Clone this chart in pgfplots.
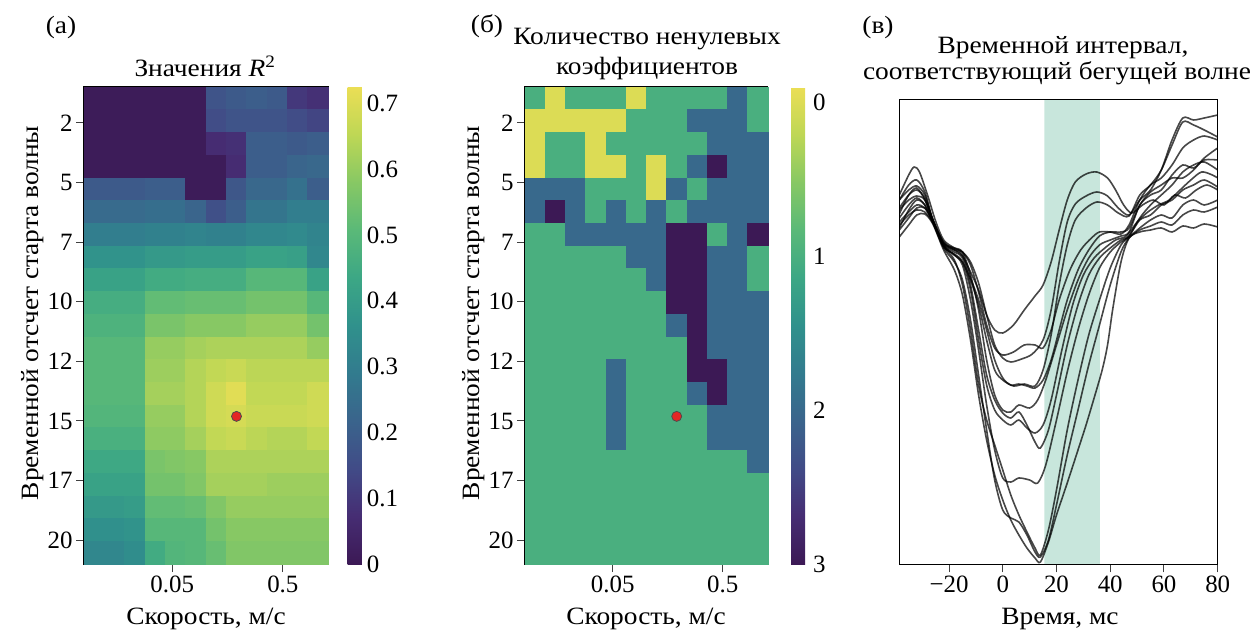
\documentclass[border=0pt]{standalone}
\usepackage{fontspec}
\setmainfont{Liberation Serif}
\newfontfamily\wide{Liberation Serif}[FakeStretch=1.1]
\usepackage{pgfplots}
\pgfplotsset{compat=1.18}
\newcommand{\fs}{\fontsize{25}{29}\selectfont}
\newcommand{\ft}{\wide\fontsize{25}{29}\selectfont}
\definecolor{band}{RGB}{200,230,220}
\definecolor{dot}{RGB}{228,38,36}
\pgfplotsset{
  colormap={vir}{rgb255=(60,25,85) rgb255=(70,45,115) rgb255=(65,75,135) rgb255=(58,100,140) rgb255=(50,123,142) rgb255=(48,145,140) rgb255=(60,167,133) rgb255=(90,185,120) rgb255=(135,200,100) rgb255=(190,215,85) rgb255=(235,222,85)},
  colormap={virR}{rgb255=(235,222,85) rgb255=(190,215,85) rgb255=(135,200,100) rgb255=(90,185,120) rgb255=(60,167,133) rgb255=(48,145,140) rgb255=(50,123,142) rgb255=(58,100,140) rgb255=(65,75,135) rgb255=(70,45,115) rgb255=(60,25,85)},
  heat/.style={
    scale only axis, height=477bp,
    xmin=0, xmax=12, ymin=0, ymax=21, y dir=reverse,
    enlargelimits=false, axis on top,
    tick align=outside, major tick length=8bp,
    xtick pos=bottom, ytick pos=left,
    xtick={4.34,9.78}, xticklabels={0.05,0.5},
    ytick={1.575,4.2,6.825,9.45,12.075,14.7,17.325,19.95},
    yticklabels={2,5,7,10,12,15,17,20},
    axis line style={line width=1.2bp},
    tick style={line width=1bp, color=black!75},
    tick label style={font=\fs},
  },
  cell/.style={scatter, only marks, mark=square*, point meta=explicit,
    scatter/use mapped color={draw=mapped color, fill=mapped color}},
  cb/.style={
    at={(parent axis.north east)}, anchor=north west,
    scale only axis, width=20.6bp, height=477bp,
    axis line style={draw=none}, major tick length=0pt,
    tick label style={font=\fs},
  },
  wave/.style={black, opacity=0.72, line width=1.6bp, smooth, tension=0.5},
}
\begin{document}
\begin{tikzpicture}
\useasboundingbox (0,0) rectangle (1256bp,631bp);

% (a) R^2 values
\begin{axis}[heat, at={(84bp,67bp)}, width=244bp,
  colormap name=vir, point meta min=0, point meta max=0.725,
  colorbar, colorbar style={cb, xshift=11.2bp,
    ytick={0,0.1,0.2,0.3,0.4,0.5,0.6,0.7},
    yticklabels={0,0.1,0.2,0.3,0.4,0.5,0.6,0.7},
    yticklabel style={xshift=-5bp}}]
\addplot[cell, mark size=10.2bp, mark options={yscale=1.117}]
 table[row sep=\\, header=false, x expr={\coordindex-12*floor((\coordindex+0.5)/12)+0.5}, y expr={floor((\coordindex+0.5)/12)+0.5}, meta index=0] {
0.01\\0.01\\0.01\\0.01\\0.01\\0.01\\0.17\\0.19\\0.2\\0.19\\0.1\\0.08\\
0.01\\0.01\\0.01\\0.01\\0.01\\0.01\\0.15\\0.17\\0.17\\0.17\\0.15\\0.13\\
0.01\\0.01\\0.01\\0.01\\0.01\\0.01\\0.07\\0.08\\0.2\\0.2\\0.19\\0.2\\
0.01\\0.01\\0.01\\0.01\\0.01\\0.01\\0.01\\0.07\\0.2\\0.2\\0.22\\0.23\\
0.19\\0.19\\0.19\\0.2\\0.2\\0.01\\0.01\\0.18\\0.23\\0.23\\0.26\\0.2\\
0.24\\0.24\\0.24\\0.25\\0.25\\0.22\\0.16\\0.2\\0.27\\0.27\\0.3\\0.3\\
0.3\\0.3\\0.3\\0.31\\0.31\\0.32\\0.31\\0.31\\0.33\\0.33\\0.34\\0.32\\
0.37\\0.37\\0.37\\0.39\\0.39\\0.4\\0.4\\0.4\\0.42\\0.42\\0.41\\0.33\\
0.42\\0.42\\0.42\\0.45\\0.45\\0.46\\0.46\\0.46\\0.5\\0.5\\0.5\\0.42\\
0.46\\0.46\\0.46\\0.52\\0.52\\0.53\\0.53\\0.53\\0.55\\0.55\\0.55\\0.5\\
0.48\\0.48\\0.48\\0.56\\0.56\\0.58\\0.58\\0.58\\0.6\\0.6\\0.6\\0.55\\
0.5\\0.5\\0.5\\0.6\\0.6\\0.62\\0.63\\0.63\\0.63\\0.63\\0.63\\0.6\\
0.5\\0.5\\0.5\\0.61\\0.61\\0.64\\0.66\\0.67\\0.65\\0.65\\0.65\\0.65\\
0.5\\0.5\\0.5\\0.62\\0.62\\0.64\\0.68\\0.71\\0.66\\0.66\\0.66\\0.68\\
0.49\\0.49\\0.49\\0.6\\0.6\\0.64\\0.68\\0.69\\0.67\\0.67\\0.67\\0.68\\
0.47\\0.47\\0.47\\0.59\\0.59\\0.62\\0.66\\0.67\\0.65\\0.64\\0.64\\0.66\\
0.44\\0.44\\0.44\\0.56\\0.57\\0.58\\0.63\\0.63\\0.63\\0.63\\0.63\\0.63\\
0.42\\0.42\\0.42\\0.55\\0.55\\0.57\\0.62\\0.62\\0.62\\0.61\\0.61\\0.61\\
0.39\\0.39\\0.4\\0.52\\0.52\\0.53\\0.57\\0.6\\0.6\\0.6\\0.6\\0.6\\
0.36\\0.36\\0.37\\0.5\\0.5\\0.5\\0.55\\0.58\\0.58\\0.58\\0.58\\0.58\\
0.33\\0.33\\0.35\\0.45\\0.49\\0.5\\0.53\\0.57\\0.57\\0.57\\0.57\\0.57\\
};
\addplot[only marks, mark=*, mark size=5bp, mark options={fill=dot, draw=black!70, line width=0.8bp}] coordinates {(7.5,14.5)};
\end{axis}

% (b) number of nonzero coefficients
\begin{axis}[heat, at={(525bp,67bp)}, width=242.7bp,
  colormap name=virR, point meta min=-0.1, point meta max=3,
  colorbar, colorbar style={cb, xshift=14.8bp, y dir=reverse,
    ytick={0,1,2,3}, yticklabels={0,1,2,3},
    yticklabel style={xshift=-2bp}}]
\addplot[cell, mark size=10.15bp, mark options={yscale=1.123}]
 table[row sep=\\, header=false, x expr={\coordindex-12*floor((\coordindex+0.5)/12)+0.5}, y expr={floor((\coordindex+0.5)/12)+0.5}, meta index=0] {
1\\0\\1\\1\\1\\0\\1\\1\\1\\1\\2\\1\\
0\\0\\0\\0\\0\\1\\1\\1\\2\\2\\2\\1\\
0\\1\\1\\0\\1\\1\\1\\1\\1\\2\\2\\2\\
0\\1\\1\\0\\0\\1\\0\\1\\2\\3\\2\\2\\
2\\2\\2\\1\\1\\1\\0\\2\\1\\2\\2\\2\\
2\\3\\2\\1\\2\\1\\2\\1\\2\\2\\2\\2\\
1\\1\\2\\2\\2\\2\\2\\3\\3\\1\\2\\3\\
1\\1\\1\\1\\1\\2\\2\\3\\3\\2\\2\\1\\
1\\1\\1\\1\\1\\1\\2\\3\\3\\2\\2\\1\\
1\\1\\1\\1\\1\\1\\1\\3\\3\\2\\2\\2\\
1\\1\\1\\1\\1\\1\\1\\2\\3\\2\\2\\2\\
1\\1\\1\\1\\1\\1\\1\\1\\3\\2\\2\\2\\
1\\1\\1\\1\\2\\1\\1\\1\\3\\3\\2\\2\\
1\\1\\1\\1\\2\\1\\1\\1\\2\\3\\2\\2\\
1\\1\\1\\1\\2\\1\\1\\1\\1\\2\\2\\2\\
1\\1\\1\\1\\2\\1\\1\\1\\1\\2\\2\\2\\
1\\1\\1\\1\\1\\1\\1\\1\\1\\1\\1\\2\\
1\\1\\1\\1\\1\\1\\1\\1\\1\\1\\1\\1\\
1\\1\\1\\1\\1\\1\\1\\1\\1\\1\\1\\1\\
1\\1\\1\\1\\1\\1\\1\\1\\1\\1\\1\\1\\
1\\1\\1\\1\\1\\1\\1\\1\\1\\1\\1\\1\\
};
\addplot[only marks, mark=*, mark size=5bp, mark options={fill=dot, draw=black!70, line width=0.8bp}] coordinates {(7.5,14.5)};
\end{axis}

% (v) travelling-wave interval
\begin{axis}[at={(899.3bp,66.7bp)}, scale only axis, width=318.4bp, height=465bp,
  xmin=-38.5, xmax=80, ymin=99.3, ymax=564.3, y dir=reverse,
  ytick=\empty, xtick={-20,0,20,40,60,80}, xticklabels={−20,0,20,40,60,80},
  xtick pos=bottom, tick align=outside, major tick length=8bp,
  axis line style={line width=1.2bp}, tick style={line width=1bp, color=black!75},
  tick label style={font=\fs}, axis on top, clip=true]
\addplot[draw=none, fill=band] coordinates {(15.5,99.3) (36.1,99.3) (36.1,564.3) (15.5,564.3) (15.5,99.3)};
\addplot[wave] coordinates {(-38.5,214) (-35,195) (-32,188) (-29,200) (-26,220) (-22,243) (-18,250) (-15,256) (-12,272) (-9,290) (-6,315) (-3,330) (0,333) (4,325) (8,310) (12,296) (15,285) (18,262) (21,230) (24,200) (27,182) (31,174) (35,172) (39,178) (42,190) (45,205) (48,213) (52,205) (56,200) (60,205) (64,195) (68,198) (72,190) (76,185) (80,190)};
\addplot[wave] coordinates {(-38.5,195) (-35,175) (-33,167) (-31,172) (-28,195) (-25,221) (-22,240) (-18,248) (-15,252) (-12,262) (-9,283) (-6,315) (-3,345) (0,358) (3,362) (7,359) (11,354) (15,340) (18,310) (21,262) (24,222) (27,204) (31,196) (35,192) (39,196) (43,208) (47,215) (51,200) (55,190) (59,170) (63,140) (67,118) (71,120) (75,118) (80,115)};
\addplot[wave] coordinates {(-38.5,200) (-35,190) (-32,186) (-29,195) (-26,220) (-22,245) (-18,255) (-15,262) (-12,280) (-9,305) (-6,340) (-3,370) (0,380) (4,386) (8,384) (12,386) (15,370) (18,335) (21,285) (24,245) (27,220) (31,208) (35,202) (39,205) (43,213) (47,216) (51,195) (55,185) (59,170) (63,145) (67,122) (71,125) (75,130) (80,137)};
\addplot[wave] coordinates {(-38.5,208) (-35,195) (-32,190) (-29,198) (-26,220) (-22,243) (-18,248) (-15,252) (-12,275) (-9,310) (-6,360) (-3,395) (0,410) (3,412) (6,405) (10,408) (13,400) (16,380) (20,345) (24,310) (28,280) (32,258) (36,245) (40,240) (44,236) (47,232) (51,205) (55,195) (59,190) (63,175) (67,165) (71,168) (75,160) (80,160)};
\addplot[wave] coordinates {(-38.5,218) (-35,205) (-32,198) (-29,205) (-26,222) (-22,245) (-18,252) (-15,258) (-12,285) (-9,330) (-6,375) (-3,400) (0,413) (3,418) (6,412) (9,425) (12,442) (14,448) (17,430) (20,395) (24,345) (28,305) (32,275) (36,258) (40,248) (44,240) (47,236) (51,220) (55,215) (59,205) (63,200) (67,190) (71,185) (75,180) (80,187)};
\addplot[wave] coordinates {(-38.5,222) (-35,212) (-32,205) (-29,208) (-26,222) (-22,246) (-18,255) (-15,265) (-12,300) (-9,350) (-6,405) (-3,450) (0,478) (3,482) (6,478) (10,480) (13,483) (16,465) (20,420) (24,372) (28,330) (32,295) (36,268) (40,252) (44,242) (47,237) (51,228) (55,220) (59,215) (63,218) (67,205) (71,200) (75,205) (80,200)};
\addplot[wave] coordinates {(-38.5,225) (-35,215) (-32,210) (-29,212) (-26,223) (-22,248) (-18,262) (-15,280) (-12,320) (-9,375) (-6,430) (-3,480) (0,510) (3,518) (6,522) (9,535) (12,552) (14,557) (17,540) (20,505) (24,455) (28,410) (32,365) (36,325) (40,285) (44,252) (47,238) (51,230) (55,226) (59,222) (63,225) (67,215) (71,210) (75,212) (80,207)};
\addplot[wave] coordinates {(-38.5,237) (-35,225) (-32,215) (-29,214) (-26,224) (-22,250) (-18,270) (-15,295) (-12,340) (-9,395) (-6,440) (-3,475) (0,500) (3,520) (6,535) (9,548) (12,558) (14,562) (17,542) (20,515) (24,483) (28,450) (31,425) (34,398) (37,370) (39,345) (41,308) (44,262) (47,238) (51,232) (55,230) (59,228) (63,232) (67,226) (71,228) (75,224) (80,227)};
\addplot[wave] coordinates {(-38.5,228) (-35,210) (-32,200) (-29,205) (-26,222) (-22,246) (-18,260) (-15,285) (-12,330) (-9,385) (-6,420) (-3,445) (0,470) (3,495) (6,515) (9,532) (12,548) (14,555) (17,530) (20,490) (24,430) (28,380) (32,335) (36,300) (40,268) (44,245) (47,236) (51,218) (55,205) (59,195) (63,185) (67,172) (71,165) (75,162) (80,170)};
\addplot[wave] coordinates {(-38.5,210) (-35,200) (-32,196) (-29,200) (-26,220) (-22,244) (-18,250) (-15,255) (-12,278) (-9,300) (-6,330) (-3,360) (0,378) (3,385) (6,384) (9,386) (12,388) (15,380) (18,360) (21,330) (24,300) (28,270) (32,250) (36,236) (40,232) (44,232) (47,228) (51,205) (55,192) (59,185) (63,178) (67,178) (71,170) (75,158) (80,148)};
\addplot[wave] coordinates {(-38.5,200) (-35,185) (-32,180) (-29,192) (-26,220) (-22,242) (-18,249) (-15,252) (-12,265) (-9,292) (-6,325) (-3,348) (0,355) (4,352) (8,345) (12,345) (15,348) (18,330) (21,300) (25,270) (29,250) (33,238) (36,232) (40,232) (44,234) (47,225) (51,200) (55,185) (59,178) (63,165) (67,148) (71,140) (75,136) (80,140)};
\addplot[wave] coordinates {(-38.5,230) (-35,218) (-32,208) (-29,208) (-26,222) (-22,247) (-18,254) (-15,262) (-12,290) (-9,340) (-6,385) (-3,410) (0,420) (3,425) (6,420) (9,428) (12,433) (15,425) (18,400) (22,350) (26,305) (30,275) (34,258) (38,248) (42,240) (46,236) (50,222) (54,212) (58,205) (62,200) (66,190) (70,180) (74,172) (78,175) (80,178)};
\end{axis}

% texts
\node[font=\ft, anchor=base] at (61bp,597.7bp) {(а)};
\node[font=\ft, anchor=base] at (205bp,554bp) {Значения \textit{R}\textsuperscript{2}};
\node[font=\ft, anchor=base] at (487bp,598bp) {(б)};
\node[font=\ft, anchor=base] at (647bp,586bp) {Количество ненулевых};
\node[font=\ft, anchor=base] at (647bp,556bp) {коэффициентов};
\node[font=\ft, anchor=base] at (878bp,597.7bp) {(в)};
\node[font=\ft, anchor=base] at (1063bp,577.7bp) {Временной интервал,};
\node[font=\ft, anchor=base] at (1057bp,551bp) {соответствующий бегущей волне};
\node[font=\ft, rotate=90] at (33bp,318bp) {Временной отсчет старта волны};
\node[font=\ft, rotate=90] at (474bp,318bp) {Временной отсчет старта волны};
\node[font=\ft, anchor=base] at (206bp,6.5bp) {Скорость, м/с};
\node[font=\ft, anchor=base] at (646bp,6.5bp) {Скорость, м/с};
\node[font=\ft, anchor=base] at (1060bp,6.5bp) {Время, мс};
\end{tikzpicture}
\end{document}
